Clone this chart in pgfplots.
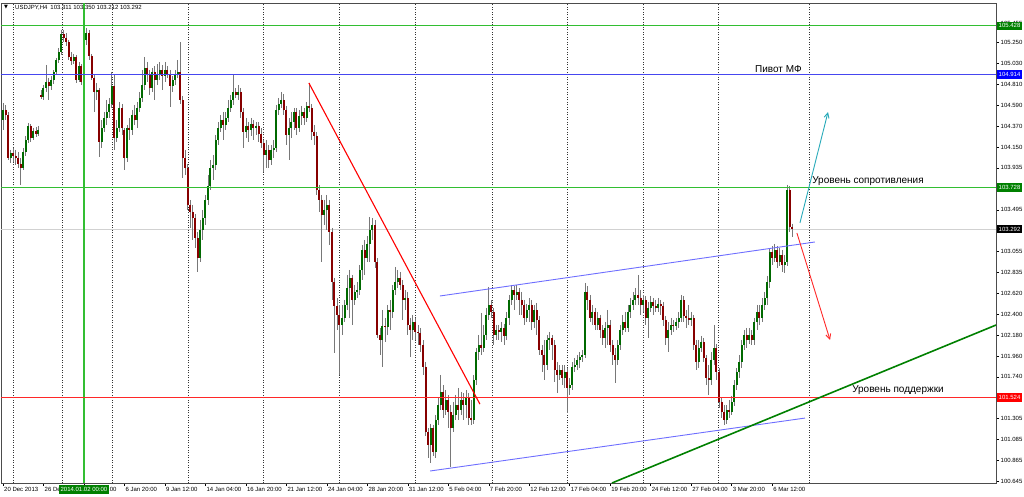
\documentclass[border=0pt]{standalone}
\usepackage{fontspec}
\setmainfont{Liberation Sans}
\newfontfamily\dejavu{DejaVu Sans}
\usepackage{pgfplots}
\pgfplotsset{compat=1.18}
\usepackage{pgfplotstable}
\usetikzlibrary{arrows.meta}

\definecolor{bullc}{RGB}{0,105,0}
\definecolor{bearc}{RGB}{135,0,0}
\definecolor{wickc}{RGB}{120,120,120}
\definecolor{lgreen}{RGB}{50,190,50}
\definecolor{lblue}{RGB}{70,70,240}
\definecolor{chanblue}{RGB}{110,110,255}
\definecolor{lred}{RGB}{255,40,40}
\definecolor{dgreen}{RGB}{0,128,0}
\definecolor{tealc}{RGB}{40,170,185}
\definecolor{boxgreen}{RGB}{0,128,0}

\pgfplotstableread{
x o h l c
0 104.439 104.617 104.334 104.544
1 104.544 104.596 104.439 104.492
2 104.492 104.523 104.019 104.040
3 104.040 104.124 103.988 104.093
4 104.093 104.145 103.998 104.061
5 104.061 104.124 103.967 104.040
6 104.040 104.103 103.935 103.977
7 103.977 104.040 103.757 103.935
8 103.935 104.145 103.914 104.103
9 104.103 104.271 104.061 104.229
10 104.229 104.408 104.198 104.376
11 104.376 104.397 104.208 104.250
12 104.250 104.355 104.229 104.324
13 104.324 104.366 104.261 104.292
14 104.292 104.376 104.271 104.334
15 104.702 104.754 104.659 104.681
16 104.681 104.807 104.649 104.775
17 104.775 105.017 104.733 104.838
18 104.838 104.880 104.649 104.796
19 104.796 104.901 104.754 104.859
20 104.859 104.964 104.817 104.943
21 104.943 105.090 104.912 105.069
22 105.069 105.195 105.038 105.153
23 105.153 105.384 105.122 105.342
24 105.342 105.384 105.258 105.300
25 105.300 105.353 105.216 105.258
26 105.258 105.279 105.069 105.101
27 105.101 105.153 105.017 105.059
28 105.059 105.132 105.027 105.101
29 105.101 105.122 104.828 104.859
30 104.859 105.048 104.838 105.006
31 105.006 105.027 104.807 104.838
32 104.838 104.880 104.775 104.796
33 105.279 105.405 105.227 105.353
34 105.353 105.384 105.069 105.111
35 105.111 105.132 104.859 104.880
36 104.880 104.912 104.523 104.733
37 104.733 104.828 104.649 104.754
38 104.754 104.775 104.050 104.208
39 104.208 104.439 104.145 104.355
40 104.355 104.523 104.313 104.460
41 104.460 104.649 104.387 104.523
42 104.523 104.670 104.460 104.607
43 104.607 104.943 104.565 104.796
44 104.796 104.912 104.124 104.250
45 104.250 104.439 104.208 104.355
46 104.355 104.628 104.313 104.565
47 104.565 104.607 104.282 104.355
48 104.334 104.355 103.914 104.040
49 104.040 104.387 103.998 104.355
50 104.355 104.460 104.229 104.334
51 104.334 104.544 104.282 104.492
52 104.492 104.596 104.387 104.439
53 104.439 104.628 104.355 104.565
54 104.565 104.733 104.523 104.670
55 104.670 104.964 104.628 104.807
56 104.807 105.101 104.754 104.985
57 104.985 105.048 104.838 104.912
58 104.912 104.964 104.702 104.775
59 104.775 104.985 104.733 104.943
60 104.943 105.006 104.649 104.859
61 104.859 105.027 104.807 104.922
62 104.922 105.048 104.859 104.964
63 104.964 105.017 104.754 104.901
64 104.901 105.048 104.838 104.964
65 104.964 105.006 104.880 104.922
66 104.922 104.964 104.575 104.796
67 104.796 104.901 104.733 104.859
68 104.859 104.964 104.807 104.912
69 104.912 105.069 104.880 104.943
70 104.943 105.258 104.607 104.649
71 104.649 104.691 103.830 104.040
72 104.040 104.124 103.862 103.935
73 103.935 103.977 103.494 103.547
74 103.547 103.599 103.305 103.473
75 103.473 103.547 103.179 103.410
76 103.410 103.452 103.095 103.200
77 103.200 103.263 102.843 102.990
78 102.990 103.389 102.948 103.284
79 103.284 103.494 103.179 103.410
80 103.410 103.652 103.337 103.599
81 103.599 103.862 103.547 103.746
82 103.746 104.019 103.704 103.935
83 103.935 104.072 103.809 103.967
84 103.967 104.282 103.914 104.229
85 104.229 104.418 104.177 104.355
86 104.355 104.492 104.313 104.439
87 104.439 104.523 104.229 104.387
88 104.387 104.523 104.334 104.460
89 104.460 104.649 104.418 104.565
90 104.565 104.702 104.523 104.649
91 104.649 104.912 104.596 104.733
92 104.733 104.775 104.670 104.702
93 104.702 104.807 104.649 104.733
94 104.733 104.775 104.460 104.523
95 104.523 104.565 104.145 104.313
96 104.313 104.460 104.250 104.376
97 104.376 104.418 104.208 104.334
98 104.334 104.460 104.271 104.397
99 104.397 104.439 104.229 104.355
100 104.355 104.418 104.282 104.376
101 104.376 104.418 104.208 104.292
102 104.292 104.355 104.145 104.198
103 104.198 104.229 103.893 104.072
104 104.072 104.229 103.935 104.124
105 104.124 104.177 103.935 104.019
106 104.019 104.177 103.967 104.124
107 104.124 104.229 104.040 104.145
108 104.145 104.596 104.103 104.544
109 104.544 104.670 104.492 104.607
110 104.607 104.733 104.565 104.649
111 104.649 104.712 104.492 104.544
112 104.544 104.586 104.177 104.282
113 104.282 104.460 104.019 104.355
114 104.355 104.523 104.250 104.418
115 104.418 104.565 104.334 104.523
116 104.523 104.565 104.282 104.355
117 104.355 104.544 104.313 104.481
118 104.481 104.586 104.387 104.523
119 104.523 104.565 104.387 104.460
120 104.460 104.628 104.418 104.586
121 104.586 104.828 104.523 104.565
122 104.565 104.607 104.229 104.313
123 104.313 104.387 104.177 104.271
124 104.271 104.313 103.652 103.704
125 103.704 103.757 103.473 103.599
126 103.599 103.652 102.948 103.442
127 103.442 103.599 103.337 103.494
128 103.494 103.652 103.284 103.547
129 103.547 103.599 103.127 103.263
130 103.263 103.305 102.549 102.738
131 102.738 102.780 101.993 102.486
132 102.486 102.570 102.234 102.392
133 102.392 102.497 101.762 102.287
134 102.287 102.497 102.182 102.360
135 102.360 102.549 102.318 102.497
136 102.497 102.812 102.444 102.675
137 102.675 102.864 102.360 102.780
138 102.780 102.812 102.287 102.549
139 102.549 102.707 102.497 102.633
140 102.633 102.738 102.570 102.654
141 102.654 102.917 102.602 102.864
142 102.864 103.127 102.759 103.074
143 103.074 103.179 102.812 102.990
144 102.990 103.221 102.948 103.137
145 103.137 103.421 102.948 103.284
146 103.284 103.410 103.179 103.337
147 103.337 103.389 102.885 102.948
148 102.948 102.990 102.150 102.182
149 102.182 102.255 101.972 102.129
150 102.129 102.444 101.846 102.276
151 102.276 102.360 102.108 102.266
152 102.266 102.497 102.182 102.444
153 102.444 102.549 102.234 102.423
154 102.423 102.707 102.360 102.654
155 102.654 102.896 102.602 102.738
156 102.738 102.864 102.675 102.780
157 102.780 102.843 102.654 102.707
158 102.707 102.759 102.339 102.549
159 102.549 102.654 102.444 102.570
160 102.570 102.633 102.182 102.287
161 102.287 102.360 101.951 102.234
162 102.234 102.392 102.129 102.318
163 102.318 102.360 102.129 102.213
164 102.213 102.287 102.077 102.203
165 102.203 102.255 102.003 102.077
166 102.077 102.129 101.762 101.846
167 101.846 101.898 101.121 101.163
168 101.163 101.205 100.890 101.027
169 101.027 101.247 100.838 101.205
170 101.205 101.237 100.911 100.953
171 100.953 101.342 100.890 101.289
172 101.289 101.520 101.237 101.447
173 101.447 101.762 101.394 101.583
174 101.583 101.657 101.310 101.394
175 101.394 101.604 101.342 101.499
176 101.499 101.552 101.205 101.373
177 101.373 101.447 100.796 101.205
178 101.205 101.478 101.163 101.342
179 101.342 101.552 101.289 101.447
180 101.447 101.625 101.289 101.394
181 101.394 101.583 101.342 101.499
182 101.499 101.573 101.289 101.447
183 101.447 101.604 101.310 101.520
184 101.520 101.573 101.237 101.310
185 101.310 101.499 101.237 101.289
186 101.289 101.762 101.247 101.709
187 101.709 102.045 101.657 102.003
188 102.003 102.182 101.919 102.077
189 102.077 102.413 101.972 102.045
190 102.045 102.287 102.003 102.182
191 102.182 102.465 102.129 102.392
192 102.392 102.686 102.339 102.497
193 102.497 102.549 102.360 102.423
194 102.423 102.465 102.077 102.182
195 102.182 102.287 102.129 102.234
196 102.234 102.287 102.129 102.213
197 102.213 102.318 102.108 102.255
198 102.255 102.297 102.077 102.171
199 102.171 102.423 102.129 102.360
200 102.360 102.602 102.287 102.549
201 102.549 102.707 102.497 102.654
202 102.654 102.696 102.444 102.602
203 102.602 102.707 102.549 102.633
204 102.633 102.675 102.392 102.549
205 102.549 102.633 102.392 102.497
206 102.497 102.549 102.287 102.360
207 102.360 102.507 102.318 102.444
208 102.444 102.570 102.318 102.497
209 102.497 102.549 102.234 102.318
210 102.318 102.497 102.255 102.444
211 102.444 102.518 102.182 102.339
212 102.339 102.381 101.972 102.024
213 102.024 102.077 101.793 101.972
214 101.972 102.129 101.709 101.867
215 101.867 102.182 101.814 102.129
216 102.129 102.213 102.024 102.150
217 102.150 102.182 101.919 102.077
218 102.077 102.129 101.688 101.814
219 101.814 101.898 101.573 101.762
220 101.762 101.867 101.709 101.814
221 101.814 101.867 101.657 101.730
222 101.730 101.867 101.625 101.793
223 101.793 101.835 101.363 101.625
224 101.625 101.730 101.552 101.657
225 101.657 101.898 101.604 101.846
226 101.846 101.940 101.793 101.867
227 101.867 101.972 101.814 101.919
228 101.919 102.003 101.835 101.951
229 101.951 102.024 101.898 101.972
230 101.972 102.728 101.940 102.633
231 102.633 102.696 102.444 102.549
232 102.549 102.602 102.318 102.360
233 102.360 102.497 102.287 102.423
234 102.423 102.465 102.234 102.287
235 102.287 102.423 102.234 102.360
236 102.360 102.392 102.150 102.234
237 102.234 102.287 102.077 102.150
238 102.150 102.318 102.045 102.255
239 102.255 102.444 102.077 102.287
240 102.287 102.339 102.003 102.077
241 102.077 102.129 101.867 101.972
242 101.972 102.045 101.678 101.919
243 101.919 102.129 101.867 102.077
244 102.077 102.287 102.024 102.234
245 102.234 102.392 102.182 102.318
246 102.318 102.423 102.213 102.255
247 102.255 102.497 102.213 102.423
248 102.423 102.570 102.360 102.497
249 102.497 102.633 102.444 102.549
250 102.549 102.675 102.497 102.602
251 102.602 102.812 102.497 102.570
252 102.570 102.654 102.392 102.497
253 102.497 102.602 102.423 102.549
254 102.549 102.591 102.287 102.360
255 102.360 102.528 102.150 102.465
256 102.465 102.591 102.423 102.528
257 102.528 102.570 102.392 102.486
258 102.486 102.549 102.423 102.465
259 102.465 102.570 102.423 102.507
260 102.507 102.549 102.392 102.486
261 102.486 102.528 102.276 102.339
262 102.339 102.381 102.077 102.150
263 102.150 102.318 102.003 102.234
264 102.234 102.360 102.182 102.287
265 102.287 102.339 102.213 102.276
266 102.276 102.360 102.234 102.318
267 102.318 102.423 102.255 102.360
268 102.360 102.602 102.318 102.549
269 102.549 102.591 102.318 102.381
270 102.381 102.444 102.255 102.360
271 102.360 102.497 102.287 102.339
272 102.339 102.423 102.276 102.360
273 102.360 102.392 102.024 102.077
274 102.077 102.129 101.814 101.898
275 101.898 102.129 101.835 102.045
276 102.045 102.171 102.003 102.108
277 102.108 102.150 101.898 101.940
278 101.940 101.972 101.657 101.730
279 101.730 101.867 101.552 101.709
280 101.709 102.003 101.657 101.919
281 101.919 102.287 101.867 102.045
282 102.045 102.087 101.709 101.793
283 101.793 101.835 101.415 101.478
284 101.478 101.520 101.310 101.373
285 101.373 101.447 101.237 101.289
286 101.289 101.447 101.247 101.394
287 101.394 101.499 101.310 101.373
288 101.373 101.541 101.342 101.478
289 101.478 101.709 101.436 101.657
290 101.657 101.835 101.604 101.793
291 101.793 101.972 101.730 101.898
292 101.898 102.129 101.835 102.077
293 102.077 102.234 102.024 102.182
294 102.182 102.255 102.045 102.129
295 102.129 102.255 102.087 102.182
296 102.182 102.234 102.077 102.129
297 102.129 102.360 102.077 102.318
298 102.318 102.497 102.234 102.423
299 102.423 102.497 102.287 102.360
300 102.360 102.570 102.318 102.497
301 102.497 102.633 102.444 102.570
302 102.570 102.801 102.497 102.738
303 102.738 103.095 102.675 103.053
304 103.053 103.116 102.917 102.990
305 102.990 103.137 102.948 103.074
306 103.074 103.116 102.885 102.948
307 102.948 103.095 102.906 103.022
308 103.022 103.074 102.843 102.917
309 102.917 103.022 102.833 102.948
310 102.948 103.760 102.906 103.704
311 103.704 103.740 103.263 103.311
312 103.311 103.350 103.212 103.292
}\candles

\begin{document}
\begin{tikzpicture}[x=1pt,y=1pt]
\path[use as bounding box] (0,0) rectangle (1024,496);
\begin{axis}[
  at={(1pt,13pt)}, anchor=south west, scale only axis,
  width=995pt, height=480pt,
  xmin=-0.79, xmax=392.5, ymin=100.626, ymax=105.667,
  axis line style={black!70, line width=0.6pt},
  tick align=outside, major tick length=3pt,
  tick style={black, line width=0.5pt},
  ytick pos=right, xtick pos=lower,
  /pgf/number format/assume math mode=true,
  tick label style={font=\fontsize{6}{7}\selectfont, text=black},
  ytick={100.645,100.865,101.085,101.305,101.740,101.960,102.180,102.400,102.620,102.835,103.055,103.495,103.935,104.150,104.370,104.590,104.810,105.030,105.250,105.455},
  yticklabels={100.645,100.865,101.085,101.305,101.740,101.960,102.180,102.400,102.620,102.835,103.055,103.495,103.935,104.150,104.370,104.590,104.810,105.030,105.250,105.455},
  yticklabel style={anchor=west, inner sep=1pt, xshift=0.5pt},
  xtick={0,16,32,48,64,80,96,112,128,144,160,176,192,208,224,240,256,272,288,304},
  xticklabels={20 Dec 2013,26 Dec 2013,2 Jan 04:00,6 Jan 20:00,9 Jan 12:00,14 Jan 04:00,16 Jan 20:00,21 Jan 12:00,24 Jan 04:00,28 Jan 20:00,31 Jan 12:00,5 Feb 04:00,7 Feb 20:00,12 Feb 12:00,17 Feb 04:00,19 Feb 20:00,24 Feb 12:00,27 Feb 04:00,3 Mar 20:00,6 Mar 12:00},
  xticklabel style={anchor=north west, inner sep=1pt, xshift=0pt, yshift=0pt},
]
% vertical dotted grid
\pgfplotsinvokeforeach{3.95,23.3,43.1,73.1,102.8,132.8,162.8,193.3,222.9,253.0,282.6,318.6}{
  \addplot[black!80, line width=0.6pt, dash pattern=on 1pt off 1.5pt, forget plot] coordinates {(#1,100.626) (#1,105.667)};
}
% light gray current price line
\addplot[black!18, line width=1pt, forget plot] coordinates {(-0.79,103.292) (392.5,103.292)};
% wicks
\addplot[draw=none, mark=none, forget plot,
  error bars/.cd, y dir=minus, y explicit, error mark=none,
  error bar style={draw=wickc, line width=0.75pt, solid}]
  table[x=x, y=h, y error minus expr=\thisrow{h}-\thisrow{l}] {\candles};
% bull bodies
\addplot[draw=none, mark=none, forget plot,
  restrict expr to domain={\thisrow{c}-\thisrow{o}}{0:100},
  error bars/.cd, y dir=minus, y explicit, error mark=none,
  error bar style={draw=bullc, line width=2pt, solid}]
  table[x=x, y=c, y error minus expr=\thisrow{c}-\thisrow{o}] {\candles};
% bear bodies
\addplot[draw=none, mark=none, forget plot,
  restrict expr to domain={\thisrow{c}-\thisrow{o}}{-100:-0.00001},
  error bars/.cd, y dir=minus, y explicit, error mark=none,
  error bar style={draw=bearc, line width=2pt, solid}]
  table[x=x, y=o, y error minus expr=\thisrow{o}-\thisrow{c}] {\candles};
% green vertical line
\addplot[lgreen, line width=1.2pt, forget plot] coordinates {(32,100.626) (32,105.667)};
% horizontal levels
\addplot[lgreen, line width=1.2pt, forget plot] coordinates {(-0.79,105.428) (392.5,105.428)};
\addplot[lblue, line width=1.1pt, forget plot] coordinates {(-0.79,104.914) (392.5,104.914)};
\addplot[lgreen, line width=1.2pt, forget plot] coordinates {(-0.79,103.728) (392.5,103.728)};
\addplot[lred, line width=1.2pt, forget plot] coordinates {(-0.79,101.524) (392.5,101.524)};
% trend lines
\addplot[red, line width=1.1pt, forget plot] coordinates {(120.9,104.827) (188.5,101.455)};
\addplot[chanblue, line width=0.9pt, forget plot] coordinates {(172.7,102.590) (320.9,103.157)};
\addplot[chanblue, line width=0.9pt, forget plot] coordinates {(168.8,100.752) (317.0,101.308)};
\addplot[dgreen, line width=1.6pt, forget plot] coordinates {(240.7,100.626) (392.5,102.285)};
\addplot[tealc, line width=0.9pt, -{Straight Barb[length=5pt,width=5pt]}, forget plot] coordinates {(315.0,103.357) (326.1,104.522)};
\addplot[lred, line width=0.9pt, -{Straight Barb[length=5pt,width=5pt]}, forget plot] coordinates {(313.8,103.252) (326.9,102.128)};
% annotations
\node[anchor=west, inner sep=0pt, font=\fontsize{10}{12}\selectfont] at (axis cs:297.2,104.974) {Пивот МФ};
\node[anchor=west, inner sep=0pt, font=\fontsize{10}{12}\selectfont] at (axis cs:319.8,103.798) {Уровень сопротивления};
\node[anchor=west, inner sep=0pt, font=\fontsize{10}{12}\selectfont] at (axis cs:335.6,101.604) {Уровень поддержки};
% anchor coordinates for labels
\coordinate (r1) at (axis cs:392.5,105.428);
\coordinate (r2) at (axis cs:392.5,104.914);
\coordinate (r3) at (axis cs:392.5,103.728);
\coordinate (r4) at (axis cs:392.5,103.292);
\coordinate (r5) at (axis cs:392.5,101.524);
\coordinate (g1) at (axis cs:32,100.626);
\end{axis}
\tikzset{pl/.style={anchor=west, inner sep=1.2pt, text=white, font=\fontsize{6}{7}\selectfont, minimum height=8.5pt, minimum width=25pt}}
\node[pl, fill=boxgreen] at ([xshift=0.8pt]r1) {105.428};
\node[pl, fill=blue] at ([xshift=0.8pt]r2) {104.914};
\node[pl, fill=boxgreen] at ([xshift=0.8pt]r3) {103.728};
\node[pl, fill=black] at ([xshift=0.8pt]r4) {103.292};
\node[pl, fill=red] at ([xshift=0.8pt]r5) {101.524};
\node[anchor=north, inner sep=1.2pt, fill=boxgreen, text=white, font=\fontsize{6}{7}\selectfont, minimum height=9pt, yshift=-1.5pt] at (g1) {2014.01.02 00:00};
% header
\node[anchor=west, inner sep=0pt, font=\dejavu\fontsize{5}{6}\selectfont] at (4,488.5) {▼};
\node[anchor=west, inner sep=0pt, font=\fontsize{6}{7}\selectfont] at (15,488.5) {USDJPY,H4\enspace 103.311 103.350 103.212 103.292};
\end{tikzpicture}
\end{document}
